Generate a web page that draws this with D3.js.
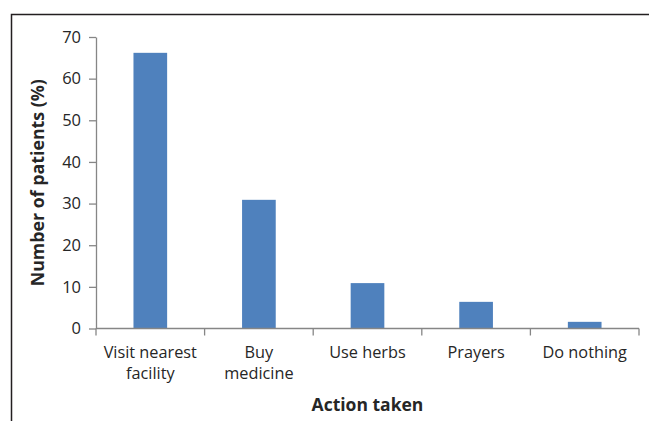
<!DOCTYPE html>
<html>
<head>
<meta charset="utf-8">
<script src="https://cdn.jsdelivr.net/npm/d3@7"></script>
<style>
  body { margin: 0; background: #fff; }
  svg text { font-family: "Open Sans", "Noto Sans", sans-serif; fill: #262626; }
</style>
</head>
<body>
<svg id="chart"></svg>
<script>
const categories = [["Visit nearest", "facility"], ["Buy", "medicine"], ["Use herbs"], ["Prayers"], ["Do nothing"]];
const values = [66.2, 30.9, 10.9, 6.4, 1.6];
const yTicks = [0, 10, 20, 30, 40, 50, 60, 70];

const width = 649, height = 421;
const margin = {top: 37, left: 96, right: 10, bottom: 92};
const plotRight = 639;
const plotBottom = 328.5;

const svg = d3.select("#chart").attr("width", width).attr("height", height);

// frame (top and left border)
svg.append("path")
  .attr("d", `M11.5,${height}V14.5H${width}`)
  .attr("fill", "none")
  .attr("stroke", "#231f20")
  .attr("stroke-width", 1.5);

const labels = categories.map(c => c.join(" "));

const x = d3.scaleBand().domain(labels).range([margin.left, plotRight]).paddingInner(0.69).paddingOuter(0.345);
const xTicks = d3.scaleBand().domain(labels).range([margin.left, plotRight]);
const y = d3.scaleLinear().domain([0, 70]).range([plotBottom, margin.top]);

// bars
svg.selectAll("rect.bar").data(values).join("rect")
  .attr("class", "bar")
  .attr("x", (d, i) => x(labels[i]))
  .attr("width", x.bandwidth())
  .attr("y", d => y(d))
  .attr("height", d => y(0) - y(d))
  .attr("fill", "#4f81bd");

// y axis
const yAxis = svg.append("g")
  .attr("transform", `translate(${margin.left},0)`)
  .call(d3.axisLeft(y).tickValues(yTicks).tickSize(7).tickPadding(8).tickSizeOuter(0));
yAxis.select(".domain").attr("stroke", "#868686").attr("stroke-width", 1.3);
yAxis.selectAll(".tick line").attr("stroke", "#868686").attr("stroke-width", 1.3);
yAxis.selectAll(".tick text").attr("font-size", 16.5).attr("fill", "#262626")
  .style("font-family", "'Open Sans', sans-serif");

// x axis line and ticks at band boundaries
const xg = svg.append("g");
xg.append("line")
  .attr("x1", margin.left).attr("x2", plotRight)
  .attr("y1", plotBottom).attr("y2", plotBottom)
  .attr("stroke", "#868686").attr("stroke-width", 1.3);
const bounds = labels.map(l => xTicks(l)).concat([plotRight]);
xg.selectAll("line.tk").data(bounds).join("line")
  .attr("class", "tk")
  .attr("x1", d => d).attr("x2", d => d)
  .attr("y1", plotBottom).attr("y2", plotBottom + 7)
  .attr("stroke", "#868686").attr("stroke-width", 1.3);

// category labels
const catText = xg.selectAll("text.cat").data(categories).join("text")
  .attr("class", "cat")
  .attr("text-anchor", "middle")
  .attr("font-size", 16.3)
  .attr("x", (d, i) => xTicks(labels[i]) + xTicks.bandwidth() / 2)
  .attr("y", 358);
catText.selectAll("tspan").data(d => d).join("tspan")
  .attr("x", function() { return this.parentNode.getAttribute("x"); })
  .attr("dy", (d, i) => i === 0 ? 0 : 21)
  .text(d => d);

// axis titles
svg.append("text")
  .attr("x", (margin.left + plotRight) / 2)
  .attr("y", 411)
  .attr("text-anchor", "middle")
  .attr("font-size", 17.5)
  .attr("font-weight", "bold")
  .text("Action taken");

svg.append("text")
  .attr("transform", `translate(44,${(margin.top + plotBottom) / 2}) rotate(-90)`)
  .attr("text-anchor", "middle")
  .attr("font-size", 17.8)
  .attr("font-weight", "bold")
  .text("Number of patients (%)");
</script>
</body>
</html>
